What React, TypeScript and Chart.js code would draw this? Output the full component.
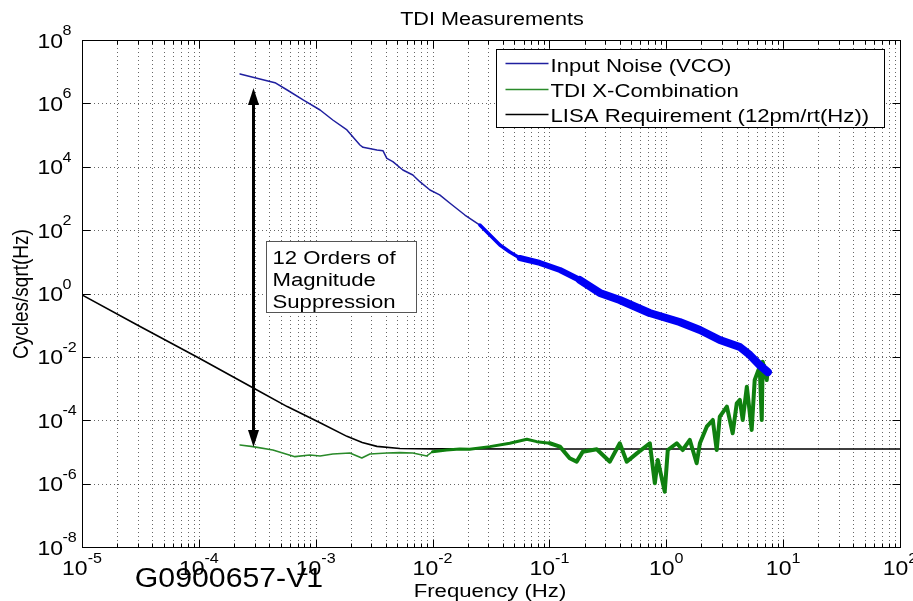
import React, { useEffect, useRef } from "react";
import { Chart, registerables } from "chart.js";

Chart.register(...registerables);

// ---------- texts ----------
const chartTitle = "TDI Measurements";
const xAxisLabel = "Frequency (Hz)";
const yAxisLabel = "Cycles/sqrt(Hz)";
const watermarkText = "G0900657-V1";
const annotationLines = ["12 Orders of", "Magnitude", "Suppression"];
const seriesNames = [
  "Input Noise (VCO)",
  "TDI X-Combination",
  "LISA Requirement (12pm/rt(Hz))",
];

// ---------- axes / tick labels ----------
const xTickExponents = [-5, -4, -3, -2, -1, 0, 1, 2];
const yTickExponents = [-8, -6, -4, -2, 0, 2, 4, 6, 8];
const xMinorMantissas = [2, 3, 4, 5, 6, 7, 8, 9];
const xMin = 1e-5;
const xMax = 1e2;
const yMin = 1e-8;
const yMax = 1e8;

// ---------- series: Input Noise (VCO) ----------
const inputNoiseFreq = [
  2.25e-4, 2.9e-4, 4.48e-4, 5.7e-4, 7.8e-4, 1.09e-3, 1.4e-3, 1.85e-3, 2.39e-3,
  2.54e-3, 3.34e-3, 3.76e-3, 4.06e-3, 4.57e-3, 5.57e-3, 6.78e-3, 7.78e-3,
  9.5e-3, 1.15e-2, 1.41e-2, 1.89e-2, 2.54e-2, 3.77e-2, 4.58e-2, 5.58e-2,
  8.28e-2, 0.123, 0.182, 0.27, 0.4, 0.72, 1.3, 1.94, 2.87, 4.26, 5.18, 6.3, 7.4,
];
const inputNoiseAmp = [
  8.45e6, 6.65e6, 4.5e6, 2.64e6, 1.28e6, 6.18e5, 2.99e5, 1.45e5, 4.86e4,
  4.11e4, 3.38e4, 3.21e4, 1.85e4, 1.45e4, 7.9e3, 5.5e3, 3.38e3, 1.85e3,
  1.29e3, 703, 300, 145, 34, 20.4, 13.2, 9.2, 5.5, 2.67, 1.04, 0.625, 0.243,
  0.126, 0.0706, 0.0341, 0.0205, 0.0115, 5.5e-3, 3.3e-3,
];

// ---------- series: TDI X-Combination ----------
const tdiFreq = [
  2.25e-4, 2.9e-4, 4.3e-4, 6.64e-4, 8.9e-4, 1.09e-3, 1.4e-3, 1.96e-3, 2.48e-3,
  2.91e-3, 4.06e-3, 5.25e-3, 6.78e-3, 8.93e-3, 1.0e-2, 1.32e-2, 1.71e-2,
  2.08e-2, 3.09e-2, 4.58e-2, 6.41e-2, 7.8e-2, 0.1007, 0.123, 0.149, 0.171,
  0.193, 0.254, 0.329, 0.4, 0.459, 0.56, 0.723, 0.798, 0.845, 0.97, 1.03, 1.23,
  1.38, 1.59, 1.82, 1.94, 2.22, 2.5, 2.7, 2.87, 3.3, 3.7, 4.01, 4.26, 4.51,
  4.89, 5.38, 5.71, 6.3, 6.56, 6.68, 7.24, 7.38,
];
const tdiAmp = [
  1.66e-5, 1.47e-5, 1.15e-5, 7.1e-6, 8.0e-6, 7.46e-6, 8.6e-6, 9.3e-6, 6.45e-6,
  8.6e-6, 9.3e-6, 9.5e-6, 9.3e-6, 7.46e-6, 1.02e-5, 1.15e-5, 1.24e-5, 1.21e-5,
  1.47e-5, 1.88e-5, 2.51e-5, 2.11e-5, 1.88e-5, 1.47e-5, 6.3e-6, 4.93e-6,
  1.02e-5, 1.21e-5, 4.93e-6, 1.88e-5, 4.93e-6, 9.0e-6, 1.88e-5, 1.03e-6,
  5.58e-6, 5.57e-7, 1.15e-5, 1.88e-5, 1.15e-5, 2.39e-5, 4.39e-6, 1.88e-5,
  6.28e-5, 1.02e-4, 1.15e-5, 1.3e-4, 2.69e-4, 3.88e-5, 3.44e-4, 4.37e-4,
  1.02e-4, 1.15e-3, 4.93e-5, 1.87e-3, 4.9e-3, 1.02e-4, 7.06e-3, 1.87e-3,
  3.86e-3,
];

// ---------- series: LISA Requirement ----------
const lisaFreq = [
  1e-5, 3e-5, 1e-4, 2.9e-4, 5.7e-4, 1.09e-3, 1.85e-3, 2.5e-3, 3.34e-3, 5.25e-3,
  1e-2, 1e-1, 1, 10, 100,
];
const lisaAmp = [
  0.9, 0.1, 9.2e-3, 1.06e-3, 2.7e-4, 8.3e-5, 3.1e-5, 2.0e-5, 1.5e-5, 1.29e-5,
  1.25e-5, 1.24e-5, 1.24e-5, 1.24e-5, 1.24e-5,
];

// ---------- annotation anchors (data coordinates) ----------
const arrowFreq = 2.9e-4;
const arrowTopAmp = 3.05e6;
const arrowBottomAmp = 1.44e-5;
const boxLeftFreq = 3.75e-4;
const boxRightFreq = 7.2e-3;
const boxTopAmp = 45.4;
const boxBottomAmp = 0.261;

// ---------- styles ----------
const FONT = '"Liberation Sans", Arial, Helvetica, sans-serif';
const SX = 1.23;
const blueThin = "#1f1f9f";
const blueThick = "#0000f5";
const greenThin = "#2a8a2a";
const greenThick = "#0f800f";

const toPoints = (fs: number[], as: number[]) =>
  fs.map((f, i) => ({ x: f, y: as[i] }));

function drawText(
  ctx: CanvasRenderingContext2D,
  text: string,
  x: number,
  y: number,
  size: number,
  align: "left" | "center" | "right",
  sx: number
) {
  ctx.save();
  ctx.font = `${size}px ${FONT}`;
  const w = ctx.measureText(text).width * sx;
  const left = align === "center" ? x - w / 2 : align === "right" ? x - w : x;
  ctx.translate(left, y);
  ctx.scale(sx, 1);
  ctx.textAlign = "left";
  ctx.textBaseline = "alphabetic";
  ctx.fillStyle = "#000";
  ctx.fillText(text, 0, 0);
  ctx.restore();
  return w;
}

function measure(ctx: CanvasRenderingContext2D, text: string, size: number, sx: number) {
  ctx.save();
  ctx.font = `${size}px ${FONT}`;
  const w = ctx.measureText(text).width * sx;
  ctx.restore();
  return w;
}

const xGridValues: number[] = [];
for (let e = -5; e < 2; e++) {
  xGridValues.push(Math.pow(10, e));
  for (const m of xMinorMantissas) xGridValues.push(m * Math.pow(10, e));
}
xGridValues.push(100);

const gridPlugin = {
  id: "matlabGrid",
  beforeDatasetsDraw(chart: any) {
    const { ctx, chartArea: a, scales } = chart;
    const xs = scales.x;
    const ys = scales.y;
    ctx.save();
    ctx.strokeStyle = "rgba(0,0,0,0.6)";
    ctx.lineWidth = 1;
    ctx.setLineDash([1, 3]);
    for (const v of xGridValues) {
      if (v <= xMin || v >= xMax) continue;
      const px = Math.round(xs.getPixelForValue(v)) + 0.5;
      ctx.beginPath();
      ctx.moveTo(px, a.top);
      ctx.lineTo(px, a.bottom);
      ctx.stroke();
    }
    for (const e of yTickExponents) {
      const v = Math.pow(10, e);
      if (v <= yMin || v >= yMax) continue;
      const py = Math.round(ys.getPixelForValue(v)) + 0.5;
      ctx.beginPath();
      ctx.moveTo(a.left, py);
      ctx.lineTo(a.right, py);
      ctx.stroke();
    }
    ctx.restore();
  },
  afterDatasetsDraw(chart: any) {
    const { ctx, chartArea: a, scales } = chart;
    const xs = scales.x;
    const ys = scales.y;
    ctx.save();
    // frame
    ctx.strokeStyle = "#000";
    ctx.lineWidth = 1;
    ctx.setLineDash([]);
    const L = Math.round(a.left) + 0.5;
    const R = Math.round(a.right) + 0.5;
    const T = Math.round(a.top) + 0.5;
    const B = Math.round(a.bottom) + 0.5;
    ctx.strokeRect(L, T, R - L, B - T);
    // ticks
    ctx.beginPath();
    for (const v of xGridValues) {
      const px = Math.round(xs.getPixelForValue(v)) + 0.5;
      const major = Math.abs(Math.log10(v) - Math.round(Math.log10(v))) < 1e-9;
      const len = major ? 8 : 4;
      ctx.moveTo(px, B);
      ctx.lineTo(px, B - len);
      ctx.moveTo(px, T);
      ctx.lineTo(px, T + len);
    }
    for (const e of yTickExponents) {
      const py = Math.round(ys.getPixelForValue(Math.pow(10, e))) + 0.5;
      ctx.moveTo(L, py);
      ctx.lineTo(L + 8, py);
      ctx.moveTo(R, py);
      ctx.lineTo(R - 8, py);
    }
    ctx.stroke();

    // double arrow
    const ax = Math.round(xs.getPixelForValue(arrowFreq)) + 0.5;
    const yTop = ys.getPixelForValue(arrowTopAmp);
    const yBot = ys.getPixelForValue(arrowBottomAmp);
    const headL = 17;
    const headW = 5.5;
    ctx.lineWidth = 3;
    ctx.beginPath();
    ctx.moveTo(ax, yTop + headL - 2);
    ctx.lineTo(ax, yBot - headL + 2);
    ctx.stroke();
    ctx.fillStyle = "#000";
    ctx.beginPath();
    ctx.moveTo(ax, yTop);
    ctx.lineTo(ax - headW, yTop + headL);
    ctx.lineTo(ax + headW, yTop + headL);
    ctx.closePath();
    ctx.fill();
    ctx.beginPath();
    ctx.moveTo(ax, yBot);
    ctx.lineTo(ax - headW, yBot - headL);
    ctx.lineTo(ax + headW, yBot - headL);
    ctx.closePath();
    ctx.fill();

    // annotation box
    const bx0 = Math.round(xs.getPixelForValue(boxLeftFreq)) + 0.5;
    const bx1 = Math.round(xs.getPixelForValue(boxRightFreq)) + 0.5;
    const by0 = Math.round(ys.getPixelForValue(boxTopAmp)) + 0.5;
    const by1 = Math.round(ys.getPixelForValue(boxBottomAmp)) + 0.5;
    ctx.fillStyle = "#fff";
    ctx.fillRect(bx0, by0, bx1 - bx0, by1 - by0);
    ctx.lineWidth = 1;
    ctx.strokeStyle = "#555";
    ctx.strokeRect(bx0, by0, bx1 - bx0, by1 - by0);
    const boxOffsets = [22, 44.5, 66];
    annotationLines.forEach((t, i) =>
      drawText(ctx, t, bx0 + 6, by0 + boxOffsets[i], 18, "left", SX)
    );

    // legend
    const lw = 388;
    const lh = 78;
    const lx = Math.round(a.right - 16 - lw) + 0.5;
    const ly = Math.round(a.top + 9) + 0.5;
    ctx.fillStyle = "#fff";
    ctx.fillRect(lx, ly, lw, lh);
    ctx.strokeStyle = "#000";
    ctx.strokeRect(lx, ly, lw, lh);
    const rowLine = [14, 40, 65];
    const rowBase = [22.5, 47.5, 72.5];
    const legendColors = [blueThin, greenThin, "#000"];
    seriesNames.forEach((name, i) => {
      ctx.strokeStyle = legendColors[i];
      ctx.lineWidth = 1.6;
      ctx.beginPath();
      ctx.moveTo(lx + 9, ly + rowLine[i]);
      ctx.lineTo(lx + 52, ly + rowLine[i]);
      ctx.stroke();
      drawText(ctx, name, lx + 54, ly + rowBase[i], 18, "left", SX);
    });
    ctx.restore();
  },
  afterDraw(chart: any) {
    const { ctx, chartArea: a, scales } = chart;
    const xs = scales.x;
    const ys = scales.y;
    const baseSize = 20;
    const expSize = 14;
    const tsx = 1.15;
    // y tick labels
    for (const e of yTickExponents) {
      const py = ys.getPixelForValue(Math.pow(10, e));
      drawText(ctx, "10", a.left - 19, py + 7.5, baseSize, "right", tsx);
      drawText(ctx, String(e), a.left - 19.5, py - 5, expSize, "left", tsx);
    }
    // x tick labels
    for (const e of xTickExponents) {
      const px = xs.getPixelForValue(Math.pow(10, e));
      const bw = measure(ctx, "10", baseSize, tsx);
      const ew = measure(ctx, String(e), expSize, tsx);
      const left = px - (bw + ew) / 2;
      drawText(ctx, "10", left, a.bottom + 28, baseSize, "left", tsx);
      drawText(ctx, String(e), left + bw, a.bottom + 16, expSize, "left", tsx);
    }
    // title
    drawText(ctx, chartTitle, (a.left + a.right) / 2 + 1, 25, 18, "center", 1.2);
    // x label
    drawText(ctx, xAxisLabel, (a.left + a.right) / 2 - 1, 597, 18, "center", SX);
    // y label (rotated, stretched in screen x)
    ctx.save();
    ctx.font = `19px ${FONT}`;
    ctx.fillStyle = "#000";
    ctx.translate(28, 294);
    ctx.scale(1.2, 1);
    ctx.rotate(-Math.PI / 2);
    ctx.textAlign = "center";
    ctx.textBaseline = "alphabetic";
    ctx.fillText(yAxisLabel, 0, 0);
    ctx.restore();
    // watermark
    drawText(ctx, watermarkText, 229, 587, 27, "center", 1.12);
  },
};

export default function App() {
  const ref = useRef<HTMLCanvasElement>(null);
  useEffect(() => {
    document.body.style.margin = "0";
    const canvas = ref.current;
    if (!canvas) return;
    const chart = new Chart(canvas, {
      type: "scatter",
      data: {
        datasets: [
          {
            label: seriesNames[0],
            data: toPoints(inputNoiseFreq, inputNoiseAmp),
            showLine: true,
            pointRadius: 0,
            borderColor: blueThin,
            borderWidth: 1.5,
            borderJoinStyle: "round",
            borderCapStyle: "round",
            segment: {
              borderWidth: (c: any) => {
                const f = c.p0.parsed.x;
                return f < 0.019 ? 1.5 : f < 0.05 ? 3.5 : f < 0.15 ? 6 : 8;
              },
              borderColor: (c: any) => (c.p0.parsed.x < 0.019 ? blueThin : blueThick),
            },
          },
          {
            label: seriesNames[1],
            data: toPoints(tdiFreq, tdiAmp),
            showLine: true,
            pointRadius: 0,
            borderColor: greenThin,
            borderWidth: 1.5,
            borderJoinStyle: "round",
            borderCapStyle: "round",
            segment: {
              borderWidth: (c: any) => {
                const f = c.p0.parsed.x;
                return f < 0.009 ? 1.6 : f < 0.1 ? 3 : 4;
              },
              borderColor: (c: any) => (c.p0.parsed.x < 0.009 ? greenThin : greenThick),
            },
          },
          {
            label: seriesNames[2],
            data: toPoints(lisaFreq, lisaAmp),
            showLine: true,
            pointRadius: 0,
            borderColor: "#000",
            borderWidth: 1.6,
          },
        ],
      },
      options: {
        animation: false,
        responsive: false,
        devicePixelRatio: 1,
        events: [],
        layout: { padding: { left: 82, top: 40, right: 13, bottom: 54 } },
        plugins: {
          legend: { display: false },
          title: { display: false },
          tooltip: { enabled: false },
        },
        scales: {
          x: {
            type: "logarithmic",
            min: xMin,
            max: xMax,
            ticks: { display: false },
            grid: { display: false, drawTicks: false },
            border: { display: false },
          },
          y: {
            type: "logarithmic",
            min: yMin,
            max: yMax,
            ticks: { display: false },
            grid: { display: false, drawTicks: false },
            border: { display: false },
          },
        },
      },
      plugins: [gridPlugin],
    } as any);
    return () => chart.destroy();
  }, []);
  return (
    <div
      style={{
        position: "absolute",
        left: 0,
        top: 0,
        width: 913,
        height: 601,
        background: "#fff",
      }}
    >
      <canvas
        ref={ref}
        width={913}
        height={601}
        style={{ display: "block", width: 913, height: 601 }}
      />
    </div>
  );
}
